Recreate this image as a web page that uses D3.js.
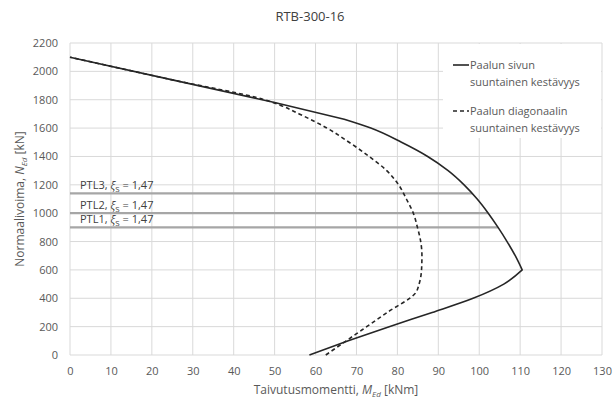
<!DOCTYPE html>
<html lang="fi">
<head>
<meta charset="UTF-8">
<title>RTB-300-16</title>
<script src="https://d3js.org/d3.v7.min.js"></script>
<style>
  body { margin: 0; background: #fff; }
  svg { font-family: "Open Sans", "Liberation Sans", sans-serif; }
  .grid line { stroke: #d9d9d9; stroke-width: 1; }
  .tick-label { fill: #595959; font-size: 11px; }
  .legend text { fill: #595959; font-size: 11px; }
</style>
</head>
<body>
<div id="chart"></div>
<script>
// axis ticks
const momentTicks = d3.range(0, 131, 10);
const normalTicks = d3.range(0, 2201, 200);

// Paalun sivun suuntainen kestävyys (solid): lower branch, upper branch, top straight part
const sivunLowN = [0, 100, 200, 300, 400, 500, 600];
const sivunLowM = [58.5, 68, 78, 88.5, 98.5, 106, 110.5];
const sivunUpN = [600, 700, 800, 900, 1000, 1100, 1200, 1300, 1400, 1500, 1600, 1662];
const sivunUpM = [110.5, 108.8, 106.8, 104.6, 102.2, 99.5, 96.3, 92.4, 87.4, 81, 73.5, 67];
const sivunTopN = [1662, 1780, 1940, 2100];
const sivunTopM = [67, 50, 25, 0];

// Paalun diagonaalin suuntainen kestävyys (dashed)
const diagN = [0, 100, 200, 300, 440, 500, 600, 700, 800, 900, 1000, 1100, 1200, 1300, 1400, 1500, 1600, 1700, 1760, 1800, 1940, 2100];
const diagM = [62.5, 67.5, 72.5, 77.5, 84.5, 85.3, 85.9, 86, 85.7, 84.9, 83.9, 82.2, 80.3, 77.4, 73.1, 68.2, 62.8, 56, 51.5, 47.5, 25, 0];

// PTL reference levels
const ptlNames = ["PTL1", "PTL2", "PTL3"];
const ptlN = [900, 1000, 1140];
const ptlXi = ["1,47", "1,47", "1,47"];

const legendLabels = [
  ["Paalun sivun", "suuntainen kestävyys"],
  ["Paalun diagonaalin", "suuntainen kestävyys"]
];

const W = 613, H = 400;
const margin = { top: 43, right: 11, bottom: 45, left: 70 };

const svg = d3.select("#chart").append("svg")
  .attr("width", W).attr("height", H);

const x = d3.scaleLinear().domain([0, 130]).range([margin.left, W - margin.right]);
const y = d3.scaleLinear().domain([0, 2200]).range([H - margin.bottom, margin.top]);

// gridlines
const grid = svg.append("g").attr("class", "grid");
grid.selectAll(".v").data(momentTicks).enter().append("line")
  .attr("x1", d => x(d)).attr("x2", d => x(d))
  .attr("y1", y(0)).attr("y2", y(2200));
grid.selectAll(".h").data(normalTicks).enter().append("line")
  .attr("x1", x(0)).attr("x2", x(130))
  .attr("y1", d => y(d)).attr("y2", d => y(d));

// axes (labels only, Excel style)
const xAxis = svg.append("g")
  .attr("transform", `translate(0,${y(0)})`)
  .call(d3.axisBottom(x).tickValues(momentTicks).tickFormat(d3.format("d")).tickSize(0).tickPadding(12));
const yAxis = svg.append("g")
  .attr("transform", `translate(${x(0)},0)`)
  .call(d3.axisLeft(y).tickValues(normalTicks).tickFormat(d3.format("d")).tickSize(0).tickPadding(12));
[xAxis, yAxis].forEach(a => {
  a.select(".domain").remove();
  a.selectAll("text").attr("class", "tick-label");
  a.attr("font-family", null).attr("font-size", null);
});

// PTL lines end on the solid curve (upper branch)
const solidAt = d3.scaleLinear().domain(sivunUpN).range(sivunUpM);

const ptl = svg.append("g");
ptlN.forEach((n, i) => {
  ptl.append("line")
    .attr("x1", x(0)).attr("x2", x(solidAt(n)))
    .attr("y1", y(n)).attr("y2", y(n))
    .attr("stroke", "#a6a6a6").attr("stroke-width", 2.2);
  const t = ptl.append("text")
    .attr("x", x(0) + 10).attr("y", y(n) - 4)
    .attr("fill", "#404040").attr("font-size", 11);
  t.append("tspan").text(ptlNames[i] + ", ");
  t.append("tspan").attr("font-style", "italic").text("ξ");
  t.append("tspan").attr("font-size", 8).attr("dy", 3).text("S");
  t.append("tspan").attr("dy", -3).text(" = " + ptlXi[i]);
});

// curves
const smooth = d3.line().x(d => x(d[0])).y(d => y(d[1])).curve(d3.curveMonotoneY);
const straight = d3.line().x(d => x(d[0])).y(d => y(d[1]));
const pairs = (ms, ns) => ms.map((m, i) => [m, ns[i]]);

const solidPath =
  smooth(pairs(sivunLowM, sivunLowN)) +
  smooth(pairs(sivunUpM, sivunUpN)).replace(/^M/, "L") +
  straight(pairs(sivunTopM, sivunTopN)).replace(/^M/, "L");
svg.append("path")
  .attr("d", solidPath)
  .attr("fill", "none").attr("stroke", "#262626").attr("stroke-width", 1.6)
  .attr("stroke-linejoin", "round");
svg.append("path")
  .attr("d", smooth(pairs(diagM, diagN)))
  .attr("fill", "none").attr("stroke", "#262626").attr("stroke-width", 1.6)
  .attr("stroke-dasharray", "4,3");

// legend
const lg = svg.append("g").attr("class", "legend");
lg.append("rect").attr("x", 443).attr("y", 44).attr("width", 158).attr("height", 94)
  .attr("fill", "#fff");
legendLabels.forEach((lab, i) => {
  const ly = 65 + i * 46;
  lg.append("line").attr("x1", 453).attr("x2", 469).attr("y1", ly).attr("y2", ly)
    .attr("stroke", "#262626").attr("stroke-width", 1.6)
    .attr("stroke-dasharray", i === 1 ? "4,3" : null);
  lab.forEach((s, j) => {
    lg.append("text").attr("x", 470).attr("y", ly + 4 + j * 17).text(s);
  });
});

// title
svg.append("text").attr("x", 310).attr("y", 21).attr("text-anchor", "middle")
  .attr("font-size", 13).attr("fill", "#404040").text("RTB-300-16");

// x axis title
const xt = svg.append("text").attr("x", (x(0) + x(130)) / 2).attr("y", 394)
  .attr("text-anchor", "middle").attr("font-size", 12).attr("fill", "#595959");
xt.append("tspan").text("Taivutusmomentti, ");
xt.append("tspan").attr("font-style", "italic").text("M");
xt.append("tspan").attr("font-style", "italic").attr("font-size", 8).attr("dy", 3).text("Ed");
xt.append("tspan").attr("dy", -3).text(" [kNm]");

// y axis title
const yt = svg.append("text")
  .attr("transform", `translate(24,${(y(0) + y(2200)) / 2}) rotate(-90)`)
  .attr("text-anchor", "middle").attr("font-size", 12).attr("fill", "#595959");
yt.append("tspan").text("Normaalivoima, ");
yt.append("tspan").attr("font-style", "italic").text("N");
yt.append("tspan").attr("font-style", "italic").attr("font-size", 8).attr("dy", 3).text("Ed");
yt.append("tspan").attr("dy", -3).text(" [kN]");
</script>
</body>
</html>
